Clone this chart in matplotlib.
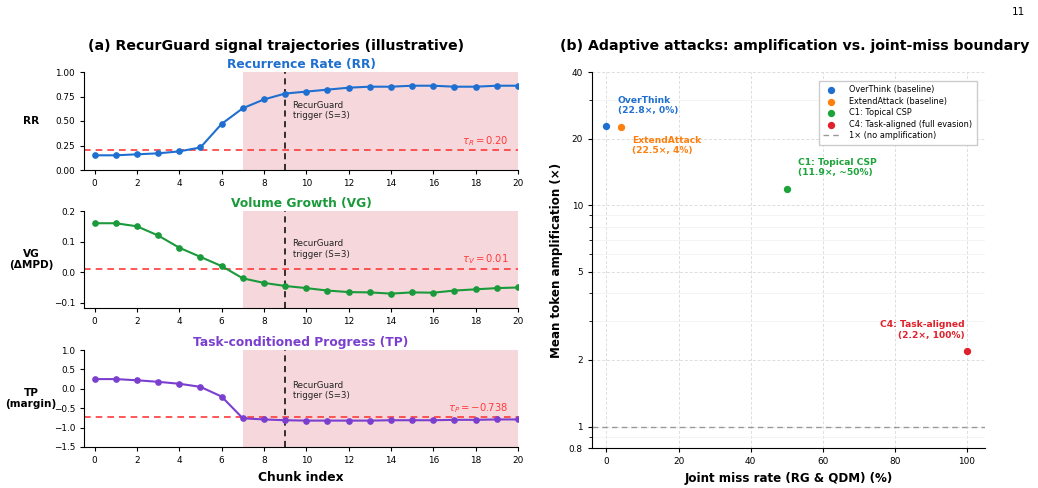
import numpy as np
import matplotlib
matplotlib.use("Agg")
import matplotlib.pyplot as plt
from matplotlib.ticker import FixedLocator, FixedFormatter, NullFormatter

chunks = list(range(21))
rr = [0.15, 0.15, 0.16, 0.17, 0.19, 0.23, 0.47, 0.63, 0.72, 0.78, 0.80, 0.82,
      0.84, 0.85, 0.85, 0.86, 0.86, 0.85, 0.85, 0.86, 0.86]
vg = [0.16, 0.16, 0.15, 0.12, 0.08, 0.05, 0.02, -0.02, -0.035, -0.045, -0.052,
      -0.06, -0.065, -0.066, -0.07, -0.066, -0.067, -0.06, -0.056, -0.052, -0.05]
tp = [0.25, 0.25, 0.22, 0.18, 0.13, 0.05, -0.20, -0.76, -0.79, -0.81, -0.82,
      -0.82, -0.82, -0.82, -0.81, -0.81, -0.81, -0.80, -0.80, -0.79, -0.79]
thr_rr, thr_vg, thr_tp = 0.20, 0.01, -0.738
shade_start, trigger = 7, 9

attack_names = ["OverThink (baseline)", "ExtendAttack (baseline)", "C1: Topical CSP",
                "C4: Task-aligned (full evasion)"]
attack_labels = ["OverThink\n(22.8×, 0%)", "ExtendAttack\n(22.5×, 4%)",
                 "C1: Topical CSP\n(11.9×, ~50%)", "C4: Task-aligned\n(2.2×, 100%)"]
miss_rate = [0, 4, 50, 100]
amplification = [22.8, 22.5, 11.9, 2.2]
attack_colors = ["#1f6fd0", "#ff7f0e", "#1ca33a", "#e0202a"]

fig = plt.figure(figsize=(10.38, 4.88), dpi=100)
W, H = 1038, 488

def ax_px(x0, y0, x1, y1):
    return fig.add_axes([x0 / W, 1 - y1 / H, (x1 - x0) / W, (y1 - y0) / H])

TICK = 6.4

panels = [
    (ax_px(84, 72, 518, 170), rr, "#1f6fd0", "Recurrence Rate (RR)", "RR", (0, 1.0),
     [0, 0.25, 0.5, 0.75, 1.0], ["0.00", "0.25", "0.50", "0.75", "1.00"], thr_rr, r"$\tau_R = 0.20$", 0.61),
    (ax_px(84, 211, 518, 308), vg, "#1a9a3a", "Volume Growth (VG)", "VG\n(ΔMPD)", (-0.117, 0.2),
     [-0.1, 0.0, 0.1, 0.2], ["−0.1", "0.0", "0.1", "0.2"], thr_vg, r"$\tau_V = 0.01$", 0.61),
    (ax_px(84, 350, 518, 447), tp, "#7b3fcf", "Task-conditioned Progress (TP)", "TP\n(margin)", (-1.5, 1.0),
     [-1.5, -1.0, -0.5, 0.0, 0.5, 1.0], ["−1.5", "−1.0", "−0.5", "0.0", "0.5", "1.0"], thr_tp,
     r"$\tau_P = -0.738$", 0.58),
]

for i, (ax, vals, col, title, ylab, ylim, yt, ytl, thr, thr_lab, ty) in enumerate(panels):
    ax.axvspan(shade_start, 20, color="#e89aa3", alpha=0.38, lw=0, zorder=0)
    ax.plot(chunks, vals, color=col, marker="o", ms=3.8, lw=1.5, zorder=3)
    ax.axhline(thr, color="#ff3b3b", ls=(0, (4, 3)), lw=1.2, zorder=2)
    ax.axvline(trigger, color="black", ls=(0, (4, 3)), lw=1.1, zorder=2)
    ax.set_xlim(-0.5, 20)
    ax.set_ylim(*ylim)
    ax.set_xticks(range(0, 21, 2))
    ax.set_yticks(yt)
    ax.set_yticklabels(ytl)
    ax.tick_params(labelsize=TICK, length=3)
    for s in ["top", "right"]:
        ax.spines[s].set_visible(False)
    ax.set_title(title, color=col, fontsize=8.8, fontweight="bold", pad=3)
    ax.set_ylabel(ylab, fontsize=7.6, fontweight="bold", rotation=0, ha="center", va="center")
    ax.yaxis.set_label_coords(-0.122, 0.5)
    ax.text(trigger + 0.35, ty, "RecurGuard\ntrigger (S=3)", transform=ax.get_xaxis_transform(),
            fontsize=6.2, color="#222222", va="center", ha="left")
    ax.annotate(thr_lab, (19.55, thr), xytext=(0, 2), textcoords="offset points",
                color="#ff3b3b", fontsize=7.2, ha="right", va="bottom")
    if i == 2:
        ax.set_xlabel("Chunk index", fontsize=8.8, fontweight="bold", labelpad=4)

fig.text(276 / W, 1 - 46 / H, "(a) RecurGuard signal trajectories (illustrative)",
         ha="center", va="center", fontsize=10.2, fontweight="bold")

# Right panel
axb = ax_px(592, 72, 985, 448)
axb.set_yscale("log")
axb.set_xlim(-4, 105)
axb.set_ylim(0.8, 40)
axb.yaxis.set_major_locator(FixedLocator([0.8, 1, 2, 5, 10, 20, 40]))
axb.yaxis.set_major_formatter(FixedFormatter(["0.8", "1", "2", "5", "10", "20", "40"]))
axb.yaxis.set_minor_formatter(NullFormatter())
axb.set_xticks([0, 20, 40, 60, 80, 100])
axb.tick_params(labelsize=TICK, length=3)
axb.grid(True, which="major", ls=(0, (3, 2)), color="#dddddd", lw=0.7)
axb.grid(True, which="minor", axis="y", ls="-", color="#f2f2f2", lw=0.6)
axb.set_axisbelow(True)
for s in ["top", "right"]:
    axb.spines[s].set_visible(False)

for name, x, y, c in zip(attack_names, miss_rate, amplification, attack_colors):
    axb.scatter([x], [y], color=c, s=18, zorder=3, label=name)
axb.axhline(1, color="#999999", ls=(0, (4, 3)), lw=1.0, label="1× (no amplification)")

offsets = [(8, 8, "left", "bottom"), (8, -6, "left", "top"), (8, 8, "left", "bottom"),
           (-2, 8, "right", "bottom")]
for lab, x, y, c, (dx, dy, ha, va) in zip(attack_labels, miss_rate, amplification, attack_colors, offsets):
    axb.annotate(lab, (x, y), xytext=(dx, dy), textcoords="offset points", color=c,
                 fontsize=6.6, fontweight="bold", ha=ha, va=va, multialignment=ha)

axb.legend(loc="upper right", fontsize=5.9, frameon=True, framealpha=1, edgecolor="#cccccc",
           fancybox=False, borderpad=0.55, handletextpad=1.2, labelspacing=0.3,
           bbox_to_anchor=(0.99, 0.987))
axb.set_xlabel("Joint miss rate (RG & QDM) (%)", fontsize=8.6, fontweight="bold")
axb.set_ylabel("Mean token amplification (×)", fontsize=8.6, fontweight="bold")
fig.text(795 / W, 1 - 46 / H, "(b) Adaptive attacks: amplification vs. joint-miss boundary",
         ha="center", va="center", fontsize=10.2, fontweight="bold")

fig.text(1025 / W, 1 - 12 / H, "11", ha="right", va="center", fontsize=7.5)

fig.savefig("out.png", dpi=100)
